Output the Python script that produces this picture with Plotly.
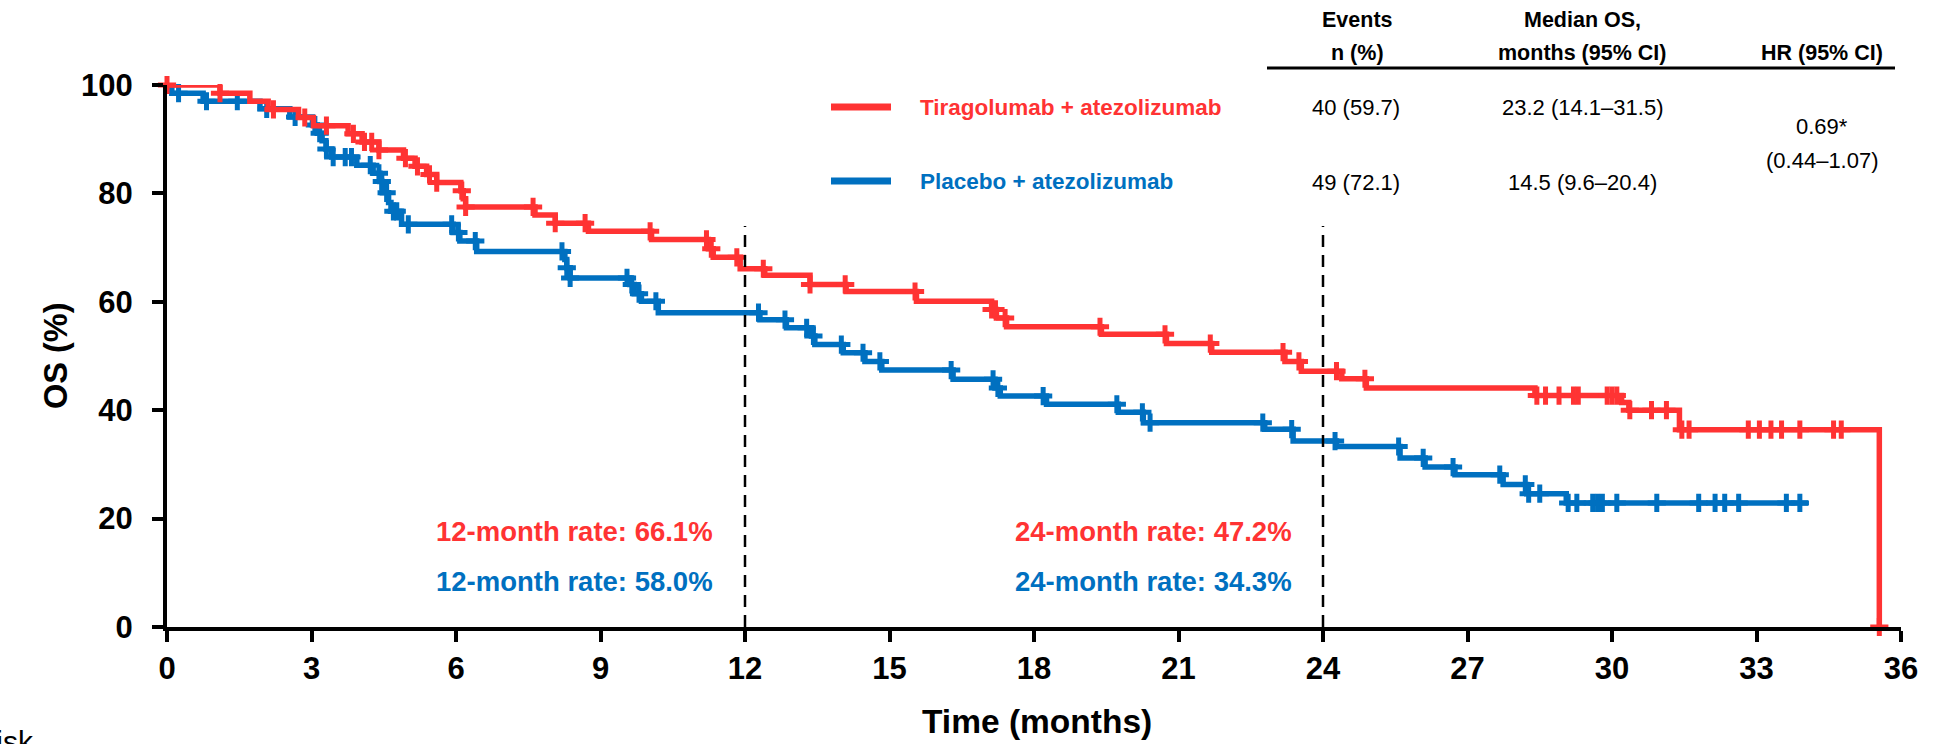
import numpy as np
import plotly.graph_objects as go

# ---------------- data ----------------
red_name = "Tiragolumab + atezolizumab"
blue_name = "Placebo + atezolizumab"

red_t = [0, 1.1, 1.72, 2.1, 2.73, 3.04, 3.76, 4.05, 4.4, 4.91,
         5.15, 5.39, 5.6, 6.1, 6.15, 6.2, 7.64, 8.06, 8.75, 10.06,
         11.24, 11.34, 11.9, 12.41, 13.35, 14.1, 15.56, 17.12, 17.22, 17.43,
         19.4, 20.75, 21.69, 23.21, 23.55, 24.39, 24.9, 28.4, 30.2, 30.35,
         31.4, 35.55]
red_s = [100, 98.5, 97.0, 95.5, 94.0, 92.5, 91.0, 89.5, 88.0, 86.5,
         85.0, 83.5, 82.0, 80.5, 79.0, 77.5, 76.0, 74.5, 73.0, 71.5,
         69.8, 68.2, 66.1, 64.9, 63.2, 61.9, 60.1, 58.6, 57.0, 55.4,
         54.0, 52.3, 50.7, 49.0, 47.2, 45.8, 44.1, 42.7, 41.4, 40.0,
         36.4, 0]
red_cens = [0, 1.1, 2.21, 2.86, 3.31, 3.87, 4.1, 4.25, 4.4, 4.95,
            5.2, 5.45, 5.6, 6.12, 6.2, 7.6, 8.06, 8.68, 10.03, 11.2,
            11.3, 11.83, 12.38, 13.35, 14.08, 15.53, 17.12, 17.2, 17.4, 19.37,
            20.72, 21.66, 23.17, 23.5, 24.28, 24.87, 28.44, 28.62, 28.9, 29.2,
            29.3, 29.9, 30.0, 30.1, 30.37, 30.82, 31.13, 31.45, 31.6, 32.83,
            33.06, 33.3, 33.52, 33.9, 34.6, 34.76, 35.55]

blue_t = [0, 0.1, 0.75, 1.93, 2.55, 3.02, 3.12, 3.22, 3.3, 3.42,
          3.94, 4.28, 4.42, 4.47, 4.6, 4.65, 4.87, 5.94, 6.08, 6.43,
          8.26, 8.3, 8.37, 9.61, 9.7, 9.85, 10.2, 12.31, 12.86, 13.38,
          13.45, 14.04, 14.49, 14.84, 16.32, 17.19, 17.3, 18.26, 19.75, 20.27,
          22.79, 23.38, 24.28, 25.6, 26.12, 26.74, 27.74, 28.23, 29.05, 34.07]
blue_s = [100, 98.5, 97.0, 95.6, 94.1, 92.6, 91.1, 89.7, 88.2, 86.7,
          85.2, 83.7, 82.2, 80.1, 78.3, 76.7, 74.3, 72.8, 71.2, 69.3,
          67.8, 66.3, 64.4, 63.2, 61.5, 60.1, 58.0, 56.7, 55.2, 53.7,
          52.1, 50.6, 49.0, 47.4, 45.7, 44.1, 42.6, 41.1, 39.6, 37.7,
          36.5, 34.3, 33.3, 31.2, 29.5, 28.1, 26.3, 24.6, 22.9, 22.9]
blue_cens = [0.24, 0.82, 1.46, 2.07, 2.66, 3.07, 3.17, 3.31, 3.45, 3.7,
             3.83, 4.22, 4.4, 4.46, 4.56, 4.7, 4.77, 5.01, 5.91, 6.05,
             6.4, 8.2, 8.3, 8.37, 9.55, 9.65, 9.8, 10.15, 12.28, 12.83,
             13.28, 13.42, 14.0, 14.45, 14.8, 16.28, 17.15, 17.25, 18.19, 19.72,
             20.25, 20.41, 22.75, 23.35, 24.25, 25.57, 26.08, 26.7, 27.67, 28.2,
             28.27, 28.5, 29.09, 29.27, 29.6, 29.7, 29.8, 30.1, 30.93, 31.8,
             32.14, 32.34, 32.63, 33.62, 33.9]

landmark_months = [12, 24]
landmark_top = 74

x_ticks = list(range(0, 37, 3))
y_ticks = list(range(0, 101, 20))

rate_12 = ["12-month rate: 66.1%", "12-month rate: 58.0%"]
rate_24 = ["24-month rate: 47.2%", "24-month rate: 34.3%"]

tbl_events = ["40 (59.7)", "49 (72.1)"]
tbl_median = ["23.2 (14.1\u201331.5)", "14.5 (9.6\u201320.4)"]
tbl_hr = ["0.69*", "(0.44\u20131.07)"]

# ---------------- styling ----------------
RED = "#FF3333"
BLUE = "#0070C0"
FONT = "Liberation Sans, Arial, sans-serif"

W, H = 1936, 744
L, R, T, B = 167, 35, 85, 117


def px_x(px):
    return (px - L) / (W - L - R)


def px_y(py):
    return (H - B - py) / (H - T - B)


def step_at(ts, ss, t):
    i = np.searchsorted(np.asarray(ts), t, side="right") - 1
    return ss[i]


fig = go.Figure()
for ts, ss, cens, col in [(blue_t, blue_s, blue_cens, BLUE), (red_t, red_s, red_cens, RED)]:
    fig.add_trace(go.Scatter(x=ts, y=ss, mode="lines",
                             line=dict(color=col, width=5.5, shape="hv"),
                             showlegend=False, hoverinfo="skip", cliponaxis=False))
    fig.add_trace(go.Scatter(x=cens, y=[step_at(ts, ss, c) for c in cens], mode="markers",
                             marker=dict(symbol="cross-thin", size=13, color=col,
                                         line=dict(color=col, width=5)),
                             showlegend=False, hoverinfo="skip", cliponaxis=False))

shapes = []
for m in landmark_months:
    shapes.append(dict(type="line", xref="x", yref="y", x0=m, x1=m, y0=0, y1=landmark_top,
                       line=dict(color="black", width=2.5, dash="12px,8px")))
# legend sample lines
shapes.append(dict(type="line", xref="paper", yref="paper", x0=px_x(831), x1=px_x(891),
                   y0=px_y(107), y1=px_y(107), line=dict(color=RED, width=7)))
shapes.append(dict(type="line", xref="paper", yref="paper", x0=px_x(831), x1=px_x(891),
                   y0=px_y(181), y1=px_y(181), line=dict(color=BLUE, width=7)))
# table header rule
shapes.append(dict(type="line", xref="paper", yref="paper", x0=px_x(1267), x1=px_x(1895),
                   y0=px_y(68), y1=px_y(68), line=dict(color="black", width=3)))

ann = []


def add_text(text, x, y, size, color="black", bold=False, xanchor="center",
             yanchor="middle", angle=0):
    ann.append(dict(text=text, xref="paper", yref="paper", x=px_x(x), y=px_y(y),
                    xanchor=xanchor, yanchor=yanchor, showarrow=False, textangle=angle,
                    font=dict(family=FONT, size=size, color=color,
                              weight="bold" if bold else "normal")))


# legend
add_text(red_name, 918, 107, 22.5, RED, True, xanchor="left")
add_text(blue_name, 918, 181, 22.5, BLUE, True, xanchor="left")
# rates
add_text(rate_12[0], 574, 531, 27.5, RED, True)
add_text(rate_12[1], 574, 581, 27.5, BLUE, True)
add_text(rate_24[0], 1153, 531, 27.5, RED, True)
add_text(rate_24[1], 1153, 581, 27.5, BLUE, True)
# table header
add_text("Events", 1357, 20, 21.5, bold=True)
add_text("n (%)", 1357, 53, 21.5, bold=True)
add_text("Median OS,", 1582, 20, 21.5, bold=True)
add_text("months (95% CI)", 1582, 53, 21.5, bold=True)
add_text("HR (95% CI)", 1822, 53, 21.5, bold=True)
# table rows
add_text(tbl_events[0], 1356, 108, 22)
add_text(tbl_events[1], 1356, 182, 22)
add_text(tbl_median[0], 1582, 108, 22)
add_text(tbl_median[1], 1582, 182, 22)
add_text(tbl_hr[0], 1822, 127, 22)
add_text(tbl_hr[1], 1822, 160, 22)
# axis titles
add_text("Time (months)", 1037, 721, 33.5, bold=True)
add_text("OS (%)", 56, 356, 32.5, bold=True, angle=-90)
# cut-off label at bottom-left (as in the reference)
add_text("No. at risk", 36, 723, 30, xanchor="right", yanchor="top")

axis_common = dict(showline=True, linewidth=4, linecolor="black", ticks="outside",
                   ticklen=11, tickwidth=4, tickcolor="black", showgrid=False, zeroline=False,
                   tickfont=dict(family=FONT, size=31, color="black", weight="bold"))

fig.update_layout(
    width=W, height=H,
    margin=dict(l=L, r=R, t=T, b=B, autoexpand=False),
    paper_bgcolor="white", plot_bgcolor="white",
    xaxis=dict(range=[0, 36], tickvals=x_ticks, **axis_common),
    yaxis=dict(range=[0, 100], tickvals=y_ticks, ticklabelstandoff=13, **axis_common),
    shapes=shapes, annotations=ann, showlegend=False,
)

fig.write_html("out.html")
